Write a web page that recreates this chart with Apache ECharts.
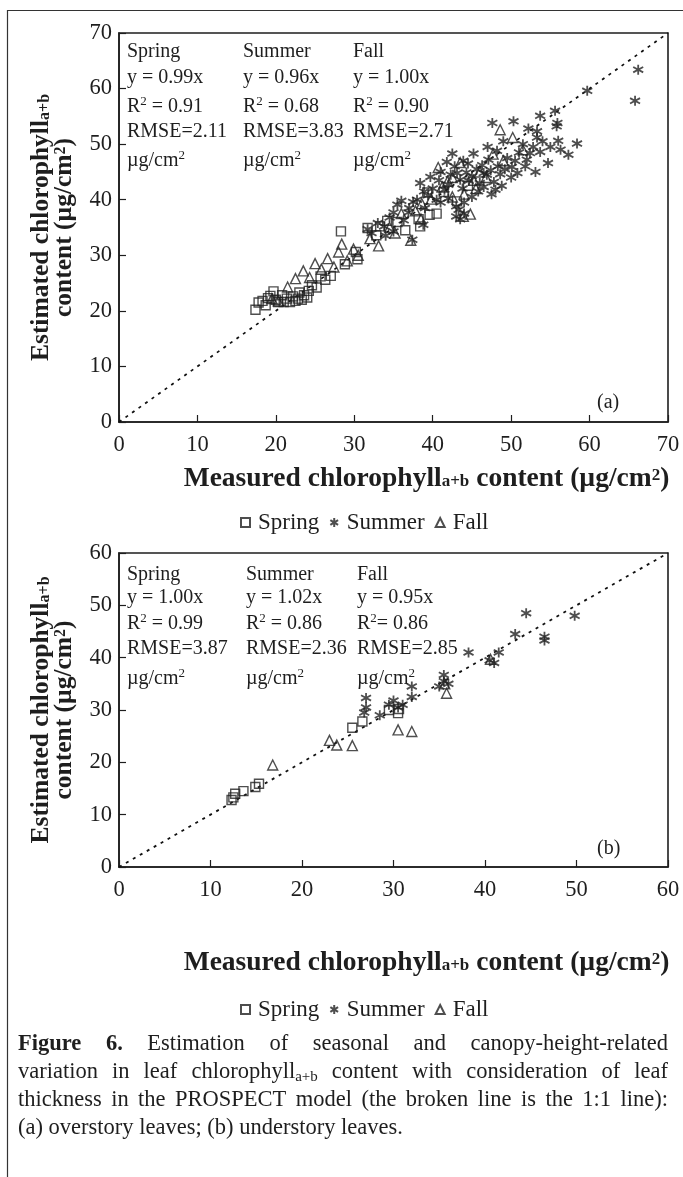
<!DOCTYPE html>
<html>
<head>
<meta charset="utf-8">
<script src="https://cdn.jsdelivr.net/npm/echarts@6/dist/echarts.min.js"></script>
<style>
html,body{margin:0;padding:0;background:#fff;}
#c{width:683px;height:1177px;}
</style>
</head>
<body>
<div id="c"></div>
<script>
// ---------------- DATA ----------------
const seasons = ['Spring', 'Summer', 'Fall'];
const ticksA = [0, 10, 20, 30, 40, 50, 60, 70];
const ticksB = [0, 10, 20, 30, 40, 50, 60];

// (a) overstory leaves: [measured, estimated]
const springA = [[17.4,20.2],[17.8,21.5],[18.3,21.8],[18.7,21.0],[19.0,22.3],[19.3,22.7],[19.7,23.5],[20.0,22.0],[20.3,21.6],[20.8,22.8],[21.0,21.6],[21.4,22.2],[21.8,21.6],[22.2,22.6],[22.5,21.8],[22.8,22.2],[23.0,23.3],[23.3,22.0],[23.6,22.8],[24.0,22.4],[24.2,23.6],[24.6,24.6],[25.2,24.2],[25.7,26.2],[26.3,25.6],[27.0,26.3],[28.3,34.3],[28.8,28.4],[30.2,30.6],[30.4,29.3],[31.7,34.9],[32.8,33.6],[33.3,35.2],[34.2,36.2],[35.5,36.0],[36.5,34.5],[38.2,36.5],[38.4,35.2],[39.3,41.3],[39.6,37.3],[41.4,41.4],[43.1,39.7],[44.5,42.5],[40.5,37.5]];
const summerA = [[66.2,63.4],[65.8,57.8],[59.7,59.6],[55.6,56.0],[53.7,55.1],[55.9,53.8],[55.8,53.2],[47.6,53.8],[50.3,54.1],[52.2,52.8],[53.3,52.3],[53.3,51.2],[56.0,50.6],[58.4,50.1],[56.3,49.0],[57.3,48.1],[54.7,46.6],[53.1,45.0],[53.7,48.6],[52.4,48.4],[50.8,44.8],[50.1,45.9],[42.5,48.3],[45.2,48.3],[47.1,47.2],[46.5,44.8],[43.1,44.8],[43.5,43.6],[41.0,45.0],[39.7,44.1],[38.4,43.0],[48.0,41.8],[45.0,40.5],[37.5,39.6],[35.5,39.1],[36.9,37.7],[35.0,37.7],[43.3,38.2],[43.0,38.8],[31.7,34.7],[35.0,34.3],[37.4,32.8],[38.8,35.5],[40.0,42.0],[40.8,43.5],[41.5,41.8],[42.0,42.7],[42.3,44.5],[43.8,42.0],[44.3,44.9],[44.6,43.4],[45.0,44.2],[45.6,45.5],[46.0,43.0],[46.3,46.2],[46.9,44.5],[47.4,45.3],[47.8,43.2],[48.3,46.0],[48.6,44.6],[49.2,45.5],[49.5,47.5],[50.5,47.0],[51.0,48.5],[51.5,50.0],[52.0,47.2],[52.8,49.5],[54.0,50.5],[55.0,49.5],[49.0,50.5],[48.2,48.8],[47.0,49.5],[44.5,46.5],[43.9,47.0],[42.8,46.0],[41.8,46.8],[40.5,40.0],[39.4,40.8],[38.9,41.5],[38.0,40.0],[37.0,38.5],[36.3,36.3],[34.5,36.8],[33.8,35.2],[33.0,35.8],[32.2,34.0],[34.0,33.5],[36.0,39.8],[39.0,38.5],[41.0,39.5],[42.0,40.2],[44.0,39.5],[45.8,41.5],[46.5,42.3],[47.5,41.0],[48.8,42.5],[50.0,44.0],[51.8,46.0],[44.0,37.5],[43.5,36.5],[43.0,37.0]];
const fallA = [[19.5,22.2],[20.3,21.8],[21.5,24.3],[22.5,25.8],[23.5,27.2],[24.3,26.0],[25.0,28.5],[25.8,27.5],[26.6,29.4],[27.4,27.9],[28.0,30.6],[28.4,32.0],[29.1,29.0],[29.9,31.1],[30.5,30.0],[33.1,31.7],[35.2,34.0],[37.2,32.7],[37.8,38.0],[38.6,39.3],[39.8,40.1],[40.7,45.8],[41.2,42.3],[41.9,43.3],[42.5,40.5],[43.5,46.7],[43.9,37.0],[44.8,37.4],[45.2,43.5],[46.0,45.0],[46.8,44.0],[47.7,48.2],[48.6,52.6],[49.0,47.0],[50.2,51.2],[51.5,49.0],[44.0,41.0],[45.5,42.0],[42.5,44.0],[38.5,36.5],[36.0,37.5],[34.5,35.0],[32.0,33.0]];

// (b) understory leaves
const springB = [[12.3,12.8],[12.5,13.3],[12.7,14.0],[13.6,14.5],[14.9,15.3],[15.3,15.9],[25.5,26.6],[26.6,27.8],[29.5,30.0],[30.5,29.4],[30.6,30.2]];
const summerB = [[26.8,29.5],[27.0,30.5],[27.0,32.3],[28.5,29.0],[29.5,31.0],[30.0,31.8],[30.5,30.5],[31.0,31.0],[32.0,32.5],[32.0,34.5],[35.0,34.5],[35.5,35.5],[35.5,36.7],[36.0,35.0],[38.2,41.0],[40.5,39.5],[41.0,39.0],[41.5,41.0],[43.3,44.5],[44.5,48.5],[46.5,44.0],[46.5,43.3],[49.8,48.0]];
const fallB = [[16.8,19.5],[23.0,24.2],[23.8,23.3],[25.5,23.2],[30.5,26.2],[32.0,25.9],[35.8,33.2],[40.6,39.7],[35.6,35.0]];

// fit statistics text
const eqA = ['y = 0.99x', 'y = 0.96x', 'y = 1.00x'];
const r2A = ['0.91', '0.68', '0.90'];
const rmseA = ['2.11', '3.83', '2.71'];
const eqB = ['y = 1.00x', 'y = 1.02x', 'y = 0.95x'];
const r2B = ['0.99', '0.86', '0.86'];
const rmseB = ['3.87', '2.36', '2.85'];

// ---------------- STYLE ----------------
const FONT = '"Liberation Serif","Times New Roman",serif';
const INK = '#1e1e1e';
const MK = '#222';
const asterisk = 'path://M5,0 L5,10 M0.7,2.3 L9.3,7.7 M0.7,7.7 L9.3,2.3';
const symbols = {Spring: 'rect', Summer: asterisk, Fall: 'triangle'};
const sizes = {Spring: 9, Summer: 10, Fall: 10};

function titleRich(size) {
  return {
    t: {fontFamily: FONT, fontWeight: 'bold', fontSize: size, color: INK, lineHeight: 23, verticalAlign: 'middle'},
    sub: {fontFamily: FONT, fontWeight: 'bold', fontSize: Math.round(size * 0.63), color: INK, lineHeight: 12, padding: [12, 0, 0, 0], verticalAlign: 'bottom'},
    sup: {fontFamily: FONT, fontWeight: 'bold', fontSize: Math.round(size * 0.63), color: INK, lineHeight: 12, verticalAlign: 'top'}
  };
}
const AF = 20; // annotation font
const richAnn = {
  t: {fontFamily: FONT, fontSize: AF, fill: INK, lineHeight: 24, verticalAlign: 'middle'},
  sup: {fontFamily: FONT, fontSize: 13, fill: INK, lineHeight: 12, verticalAlign: 'top'}
};

const gridA = {left: 119, right: 15, top: 33, height: 389};
const gridB = {left: 119, right: 15, top: 553, height: 314};

function axisX(max, idx, gap) {
  return {
    type: 'value', gridIndex: idx, min: 0, max: max, interval: 10,
    name: '{t|Measured chlorophyll}{sub|a+b}{t| content (µg/cm}{sup|2}{t|)}',
    nameLocation: 'middle', nameGap: gap,
    nameTextStyle: {rich: titleRich(27.5), padding: [0, 0, 0, 66]},
    axisLine: {show: true, lineStyle: {color: INK, width: 1.6}},
    axisTick: {show: true, inside: true, length: 7, lineStyle: {color: INK, width: 1.2}},
    axisLabel: {fontFamily: FONT, fontSize: 22.5, color: INK, margin: 12},
    splitLine: {show: false}
  };
}
function axisY(max, idx) {
  return {
    type: 'value', gridIndex: idx, min: 0, max: max, interval: 10,
    name: '{t|Estimated chlorophyll}{sub|a+b}\n{t|content (µg/cm}{sup|2}{t|)}',
    nameLocation: 'middle', nameGap: 43, nameRotate: 90,
    nameTextStyle: {rich: titleRich(25.5)},
    axisLine: {show: true, lineStyle: {color: INK, width: 1.6}},
    axisTick: {show: true, inside: true, length: 7, lineStyle: {color: INK, width: 1.2}},
    axisLabel: {fontFamily: FONT, fontSize: 22.5, color: INK, margin: 7},
    splitLine: {show: false}
  };
}

function scatter(name, data, idx) {
  return {
    type: 'scatter', name: name, xAxisIndex: idx, yAxisIndex: idx, data: data,
    symbol: symbols[name], symbolSize: sizes[name],
    itemStyle: {color: 'rgba(255,255,255,0)', borderColor: MK, borderWidth: name === 'Summer' ? 1.8 : 1.4},
    emphasis: {disabled: true}, z: 3
  };
}
function oneToOne(max, idx) {
  return {
    type: 'line', name: '1:1', xAxisIndex: idx, yAxisIndex: idx,
    data: [[0, 0], [max, max]], symbol: 'none', silent: true,
    lineStyle: {color: '#111', width: 1.8, type: [3, 5]}, z: 2
  };
}

function legendAt(top) {
  return {
    data: seasons, top: top, left: 235, itemWidth: 9, itemHeight: 9, itemGap: 10,
    selectedMode: false,
    textStyle: {fontFamily: FONT, fontSize: 23, color: INK, padding: [0, 0, 0, 3]}
  };
}

function statGraphics(cols, rows, eqs, r2s, rmses, r2sep) {
  const g = [];
  for (let i = 0; i < 3; i++) {
    const lines = [
      '{t|' + seasons[i] + '}',
      '{t|' + eqs[i] + '}',
      '{t|R}{sup|2}{t|' + (r2sep[i] ? ' = ' : '= ') + r2s[i] + '}',
      '{t|RMSE=' + rmses[i] + '}',
      '{t|µg/cm}{sup|2}'
    ];
    lines.forEach((txt, j) => {
      g.push({type: 'text', left: cols[i], top: rows[j] - 8, z: 10,
        style: {text: txt, rich: richAnn, font: AF + 'px ' + FONT, fill: INK}});
    });
  }
  return g;
}

// ---------------- CAPTION (justified) ----------------
const cvs = document.createElement('canvas');
const ctx = cvs.getContext('2d');
const CAP = 22.5, CAPSUB = 15;
function mw(text, bold, size) {
  ctx.font = (bold ? 'bold ' : '') + size + 'px ' + FONT;
  return ctx.measureText(text).width;
}
const captionLines = [
  {words: ['*Figure', '*6.', 'Estimation', 'of', 'seasonal', 'and', 'canopy-height-related'], justify: true},
  {words: ['variation', 'in', 'leaf', 'chlorophyll_a+b', 'content', 'with', 'consideration', 'of', 'leaf'], justify: true},
  {words: ['thickness', 'in', 'the', 'PROSPECT', 'model', '(the', 'broken', 'line', 'is', 'the', '1:1', 'line):'], justify: true},
  {words: ['(a)', 'overstory', 'leaves;', '(b)', 'understory', 'leaves.'], justify: false}
];
const capLeft = 18, capRight = 668, capTop = 1045, capStep = 28;
const capRich = {
  n: {fontFamily: FONT, fontSize: CAP, fill: INK, lineHeight: 24, verticalAlign: 'middle'},
  b: {fontFamily: FONT, fontSize: CAP, fontWeight: 'bold', fill: INK, lineHeight: 24, verticalAlign: 'middle'},
  s: {fontFamily: FONT, fontSize: CAPSUB, fill: INK, lineHeight: 12, verticalAlign: 'bottom'}
};
function captionGraphics() {
  const g = [];
  captionLines.forEach((ln, li) => {
    const toks = ln.words.map(w => {
      if (w[0] === '*') { const s = w.slice(1); return {rich: '{b|' + s + '}', w: mw(s, true, CAP)}; }
      if (w.indexOf('_') > 0) { const p = w.split('_'); return {rich: '{n|' + p[0] + '}{s|' + p[1] + '}', w: mw(p[0], false, CAP) + mw(p[1], false, CAPSUB)}; }
      return {rich: '{n|' + w + '}', w: mw(w, false, CAP)};
    });
    const total = toks.reduce((a, t) => a + t.w, 0);
    const gap = ln.justify ? (capRight - capLeft - total) / (toks.length - 1) : mw(' ', false, CAP);
    let x = capLeft;
    toks.forEach(t => {
      g.push({type: 'text', left: x, top: capTop + li * capStep - 12, z: 10,
        style: {text: t.rich, rich: capRich, font: CAP + 'px ' + FONT, fill: INK}});
      x += t.w + gap;
    });
  });
  return g;
}

// ---------------- CHART ----------------
const chart = echarts.init(document.getElementById('c'), null, {renderer: 'canvas'});
const graphics = [
  {type: 'rect', shape: {x: 7.5, y: 10.5, width: 720, height: 1250}, style: {fill: 'none', stroke: '#333', lineWidth: 1.2}, z: 0, silent: true},
  {type: 'text', left: 597, top: 393, style: {text: '(a)', font: AF + 'px ' + FONT, fill: INK}, z: 10},
  {type: 'text', left: 597, top: 839, style: {text: '(b)', font: AF + 'px ' + FONT, fill: INK}, z: 10}
].concat(
  statGraphics([127, 243, 353], [50, 76, 103, 130, 157], eqA, r2A, rmseA, [true, true, true]),
  statGraphics([127, 246, 357], [573, 596, 620, 647, 675], eqB, r2B, rmseB, [true, true, false]),
  captionGraphics()
);

chart.setOption({
  backgroundColor: '#fff',
  animation: false,
  grid: [
    Object.assign({show: true, borderColor: INK, borderWidth: 1.6, backgroundColor: 'transparent'}, gridA),
    Object.assign({show: true, borderColor: INK, borderWidth: 1.6, backgroundColor: 'transparent'}, gridB)
  ],
  xAxis: [axisX(70, 0, 45), axisX(60, 1, 84)],
  yAxis: [axisY(70, 0), axisY(60, 1)],
  legend: [legendAt(506), legendAt(993)],
  series: [
    oneToOne(70, 0),
    scatter('Spring', springA, 0), scatter('Summer', summerA, 0), scatter('Fall', fallA, 0),
    oneToOne(60, 1),
    scatter('Spring', springB, 1), scatter('Summer', summerB, 1), scatter('Fall', fallB, 1)
  ],
  graphic: graphics
});
</script>
</body>
</html>
